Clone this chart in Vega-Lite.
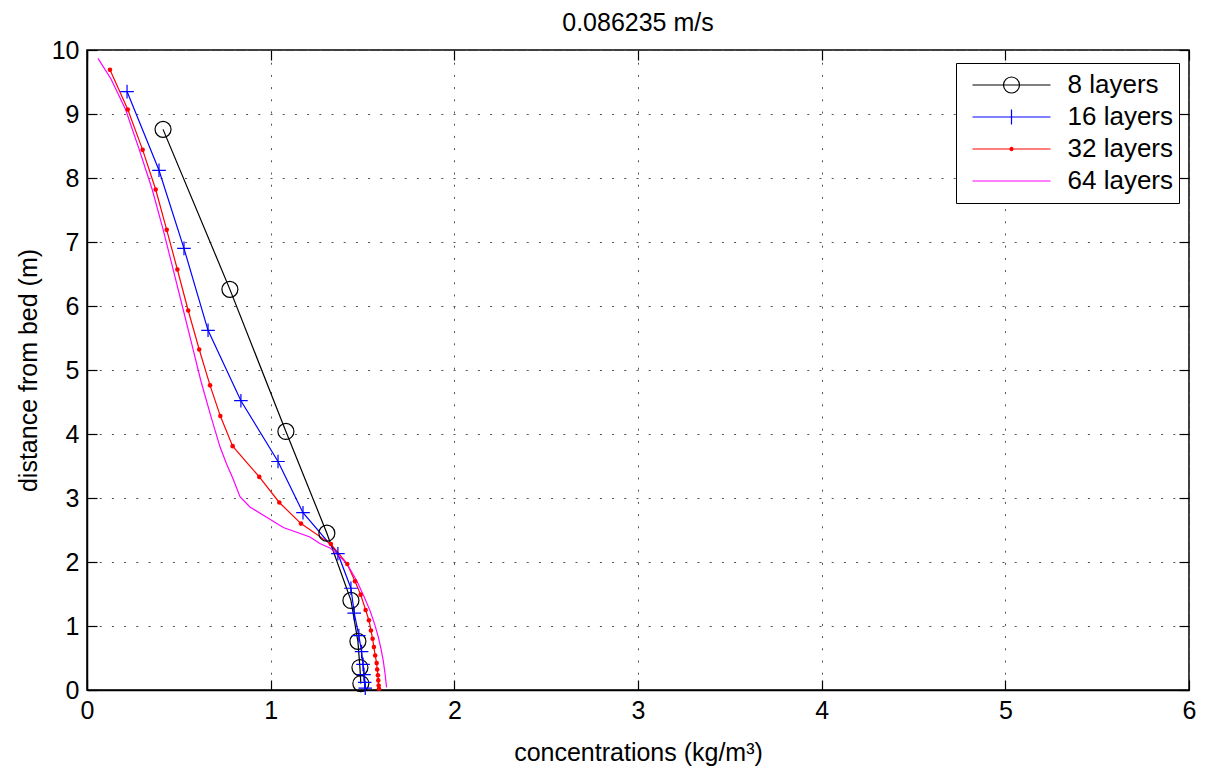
{
  "$schema": "https://vega.github.io/schema/vega-lite/v6.json",
  "width": 1102,
  "height": 640,
  "autosize": {"type": "none"},
  "padding": {"left": 87, "top": 50, "right": 19, "bottom": 84},
  "background": "white",
  "title": {"text": "0.086235 m/s", "fontSize": 25, "font": "Liberation Sans", "fontWeight": "normal", "color": "black", "offset": 2},
  "config": {
    "view": {"stroke": "black", "strokeWidth": 1.5},
    "axis": {
      "labelFont": "Liberation Sans", "labelFontSize": 25, "labelColor": "black", "labelFlush": false,
      "titleFont": "Liberation Sans", "titleFontSize": 25, "titleFontWeight": "normal", "titleColor": "black",
      "domainColor": "black", "domainWidth": 1.5, "tickColor": "black", "tickWidth": 1.2, "tickSize": -10,
      "labelPadding": 18, "gridColor": "#555", "gridDash": [2, 10.2], "gridWidth": 1
    },
    "legend": {"labelFont": "Liberation Sans", "labelFontSize": 26, "labelColor": "black",
      "title": null, "orient": "none", "legendX": 869, "legendY": 13,
      "strokeColor": "black", "fillColor": "white", "padding": 6,
      "symbolSize": 6084, "symbolStrokeWidth": 1.2, "symbolOffset": 9.5, "labelOffset": 16,
      "clipHeight": 32, "rowPadding": 0}
  },
  "data": {"values": [
    {"s": "8 layers", "c": 0.414, "z": 8.76},
    {"s": "8 layers", "c": 0.778, "z": 6.26},
    {"s": "8 layers", "c": 1.083, "z": 4.04},
    {"s": "8 layers", "c": 1.306, "z": 2.45},
    {"s": "8 layers", "c": 1.437, "z": 1.40},
    {"s": "8 layers", "c": 1.475, "z": 0.76},
    {"s": "8 layers", "c": 1.486, "z": 0.35},
    {"s": "8 layers", "c": 1.491, "z": 0.10},
    {"s": "16 layers", "c": 0.218, "z": 9.35},
    {"s": "16 layers", "c": 0.392, "z": 8.12},
    {"s": "16 layers", "c": 0.528, "z": 6.90},
    {"s": "16 layers", "c": 0.659, "z": 5.62},
    {"s": "16 layers", "c": 0.838, "z": 4.52},
    {"s": "16 layers", "c": 1.040, "z": 3.57},
    {"s": "16 layers", "c": 1.176, "z": 2.77},
    {"s": "16 layers", "c": 1.366, "z": 2.13},
    {"s": "16 layers", "c": 1.437, "z": 1.59},
    {"s": "16 layers", "c": 1.455, "z": 1.20},
    {"s": "16 layers", "c": 1.480, "z": 0.85},
    {"s": "16 layers", "c": 1.495, "z": 0.60},
    {"s": "16 layers", "c": 1.503, "z": 0.40},
    {"s": "16 layers", "c": 1.508, "z": 0.24},
    {"s": "16 layers", "c": 1.512, "z": 0.12},
    {"s": "16 layers", "c": 1.515, "z": 0.03},
    {"s": "32 layers", "c": 0.125, "z": 9.69},
    {"s": "32 layers", "c": 0.222, "z": 9.07},
    {"s": "32 layers", "c": 0.303, "z": 8.44},
    {"s": "32 layers", "c": 0.374, "z": 7.82},
    {"s": "32 layers", "c": 0.434, "z": 7.19},
    {"s": "32 layers", "c": 0.492, "z": 6.57},
    {"s": "32 layers", "c": 0.551, "z": 5.93},
    {"s": "32 layers", "c": 0.611, "z": 5.32},
    {"s": "32 layers", "c": 0.670, "z": 4.76},
    {"s": "32 layers", "c": 0.726, "z": 4.28},
    {"s": "32 layers", "c": 0.793, "z": 3.81},
    {"s": "32 layers", "c": 0.938, "z": 3.33},
    {"s": "32 layers", "c": 1.047, "z": 2.93},
    {"s": "32 layers", "c": 1.165, "z": 2.60},
    {"s": "32 layers", "c": 1.328, "z": 2.28},
    {"s": "32 layers", "c": 1.417, "z": 1.97},
    {"s": "32 layers", "c": 1.459, "z": 1.70},
    {"s": "32 layers", "c": 1.490, "z": 1.49},
    {"s": "32 layers", "c": 1.517, "z": 1.25},
    {"s": "32 layers", "c": 1.535, "z": 1.09},
    {"s": "32 layers", "c": 1.546, "z": 0.93},
    {"s": "32 layers", "c": 1.555, "z": 0.80},
    {"s": "32 layers", "c": 1.562, "z": 0.67},
    {"s": "32 layers", "c": 1.569, "z": 0.54},
    {"s": "32 layers", "c": 1.577, "z": 0.42},
    {"s": "32 layers", "c": 1.580, "z": 0.32},
    {"s": "32 layers", "c": 1.584, "z": 0.23},
    {"s": "32 layers", "c": 1.586, "z": 0.15},
    {"s": "32 layers", "c": 1.588, "z": 0.07},
    {"s": "32 layers", "c": 1.590, "z": 0.02},
    {"s": "64 layers", "c": 0.060, "z": 9.87},
    {"s": "64 layers", "c": 0.130, "z": 9.55},
    {"s": "64 layers", "c": 0.210, "z": 9.07},
    {"s": "64 layers", "c": 0.285, "z": 8.44},
    {"s": "64 layers", "c": 0.355, "z": 7.82},
    {"s": "64 layers", "c": 0.415, "z": 7.19},
    {"s": "64 layers", "c": 0.470, "z": 6.56},
    {"s": "64 layers", "c": 0.525, "z": 5.93},
    {"s": "64 layers", "c": 0.578, "z": 5.32},
    {"s": "64 layers", "c": 0.619, "z": 4.84},
    {"s": "64 layers", "c": 0.673, "z": 4.29},
    {"s": "64 layers", "c": 0.724, "z": 3.80},
    {"s": "64 layers", "c": 0.760, "z": 3.53},
    {"s": "64 layers", "c": 0.795, "z": 3.30},
    {"s": "64 layers", "c": 0.833, "z": 3.02},
    {"s": "64 layers", "c": 0.887, "z": 2.86},
    {"s": "64 layers", "c": 0.978, "z": 2.70},
    {"s": "64 layers", "c": 1.069, "z": 2.54},
    {"s": "64 layers", "c": 1.214, "z": 2.39},
    {"s": "64 layers", "c": 1.268, "z": 2.29},
    {"s": "64 layers", "c": 1.323, "z": 2.22},
    {"s": "64 layers", "c": 1.377, "z": 2.08},
    {"s": "64 layers", "c": 1.414, "z": 1.98},
    {"s": "64 layers", "c": 1.468, "z": 1.71},
    {"s": "64 layers", "c": 1.510, "z": 1.45},
    {"s": "64 layers", "c": 1.541, "z": 1.24},
    {"s": "64 layers", "c": 1.566, "z": 1.03},
    {"s": "64 layers", "c": 1.586, "z": 0.83},
    {"s": "64 layers", "c": 1.601, "z": 0.64},
    {"s": "64 layers", "c": 1.613, "z": 0.46},
    {"s": "64 layers", "c": 1.623, "z": 0.25},
    {"s": "64 layers", "c": 1.631, "z": 0.04}
  ]},
  "layer": [
    {
      "mark": {"type": "line", "strokeWidth": 1.2},
      "encoding": {
        "x": {"field": "c", "type": "quantitative", "scale": {"domain": [0, 6], "nice": false, "zero": false},
          "axis": {"orient": "bottom", "values": [0, 1, 2, 3, 4, 5, 6], "title": "concentrations (kg/m³)", "grid": true, "titlePadding": 17}},
        "y": {"field": "z", "type": "quantitative", "scale": {"domain": [0, 10], "nice": false, "zero": false},
          "axis": {"orient": "left", "values": [0, 1, 2, 3, 4, 5, 6, 7, 8, 9, 10], "title": "distance from bed (m)", "grid": true, "titlePadding": 10}},
        "order": {"field": "z", "type": "quantitative"},
        "color": {"field": "s", "type": "nominal",
          "scale": {"domain": ["8 layers", "16 layers", "32 layers", "64 layers"], "range": ["#000000", "#0000FF", "#FF0000", "#FF00FF"]}}
      }
    },
    {
      "transform": [{"filter": "datum.s === '8 layers'"}],
      "mark": {"type": "point", "shape": "circle", "filled": false, "size": 256, "stroke": "#000000", "strokeWidth": 1.2, "opacity": 1},
      "encoding": {
        "x": {"field": "c", "type": "quantitative", "axis": {"orient": "top", "values": [0, 1, 2, 3, 4, 5, 6], "labels": false, "title": null, "grid": false, "domain": false}},
        "y": {"field": "z", "type": "quantitative", "axis": {"orient": "right", "values": [0, 1, 2, 3, 4, 5, 6, 7, 8, 9, 10], "labels": false, "title": null, "grid": false, "domain": false}}
      }
    },
    {
      "transform": [{"filter": "datum.s === '16 layers'"}],
      "mark": {"type": "point", "shape": "M-1,0H1M0,-1V1", "filled": false, "size": 185, "stroke": "#0000FF", "strokeWidth": 1.2, "opacity": 1},
      "encoding": {
        "x": {"field": "c", "type": "quantitative", "axis": null},
        "y": {"field": "z", "type": "quantitative", "axis": null}
      }
    },
    {
      "transform": [{"filter": "datum.s === '32 layers'"}],
      "mark": {"type": "point", "shape": "circle", "filled": true, "size": 21, "color": "#FF0000", "opacity": 1},
      "encoding": {
        "x": {"field": "c", "type": "quantitative", "axis": null},
        "y": {"field": "z", "type": "quantitative", "axis": null}
      }
    },
    {
      "transform": [{"filter": "datum.c < -100"}],
      "mark": {"type": "point", "filled": false, "strokeWidth": 1.2, "opacity": 1},
      "encoding": {
        "x": {"field": "c", "type": "quantitative", "axis": null},
        "y": {"field": "z", "type": "quantitative", "axis": null},
        "color": {"field": "s", "type": "nominal"},
        "shape": {"field": "s", "type": "nominal",
          "scale": {"domain": ["8 layers", "16 layers", "32 layers", "64 layers"],
            "range": ["M-1,0H1M0.205,0A0.205,0.205,0,1,1,-0.205,0A0.205,0.205,0,1,1,0.205,0", "M-1,0H1M0,-0.19V0.19", "M-1,0H1M0.04,0A0.04,0.04,0,1,1,-0.04,0A0.04,0.04,0,1,1,0.04,0M0.02,0A0.02,0.02,0,1,1,-0.02,0A0.02,0.02,0,1,1,0.02,0", "M-1,0H1"]}}
      }
    }
  ]
}
